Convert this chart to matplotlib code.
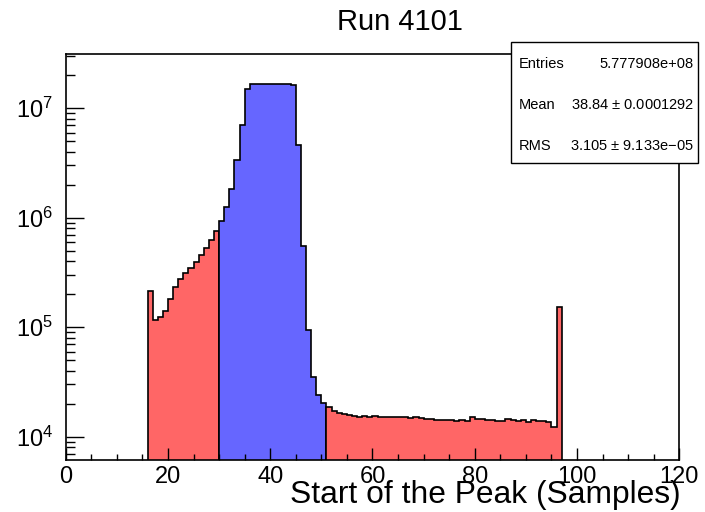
import numpy as np
import matplotlib
matplotlib.use("Agg")
import matplotlib.pyplot as plt
from matplotlib.ticker import LogLocator, NullFormatter, MultipleLocator
from matplotlib.patches import Rectangle

plt.rcParams["font.family"] = ["Liberation Sans", "DejaVu Sans"]
plt.rcParams["mathtext.fontset"] = "custom"
plt.rcParams["mathtext.rm"] = "Liberation Sans"
plt.rcParams["mathtext.it"] = "Liberation Sans:italic"

# histogram contents, one bin per sample, bins 16..96
first_bin = 16
counts = [
    2.15e5, 1.17e5, 1.25e5, 1.41e5, 1.81e5, 2.32e5, 2.78e5, 3.11e5,
    3.50e5, 3.97e5, 4.55e5, 5.34e5, 6.27e5, 7.57e5,                 # 16-29
    9.4e5, 1.25e6, 1.83e6, 3.37e6, 7.03e6, 1.50e7,                 # 30-35
    1.6777e7, 1.6777e7, 1.6777e7, 1.6777e7, 1.6777e7, 1.6777e7,
    1.6777e7, 1.6777e7,                                             # 36-43
    1.64e7, 4.6e6, 5.56e5, 9.45e4, 3.54e4, 2.41e4, 2.05e4,          # 44-50
    1.87e4, 1.73e4, 1.66e4, 1.60e4, 1.58e4, 1.54e4, 1.52e4, 1.54e4,
    1.52e4, 1.54e4, 1.50e4, 1.50e4, 1.51e4, 1.52e4, 1.50e4, 1.52e4,
    1.49e4, 1.51e4, 1.48e4,                                         # 51-69
    1.445e4, 1.445e4, 1.42e4, 1.41e4, 1.41e4, 1.41e4, 1.39e4, 1.42e4,
    1.40e4, 1.51e4, 1.445e4, 1.44e4, 1.42e4, 1.41e4, 1.39e4, 1.40e4,
    1.445e4, 1.42e4, 1.39e4, 1.41e4, 1.355e4, 1.41e4, 1.40e4, 1.39e4,
    1.355e4, 1.22e4, 1.52e5,                                        # 70-96
]
# signal window drawn in blue, the rest in red
window = (30, 51)

stats_names = ["Entries", "Mean", "RMS"]
stats_values = ["5.777908e+08", "38.84 $\\pm$ 0.0001292", "3.105 $\\pm$ 9.133e$-$05"]

RED = "#ff6666"
BLUE = "#6666ff"

counts = np.array(counts)
edges = np.arange(first_bin, first_bin + len(counts) + 1)

fig = plt.figure(figsize=(7.05, 5.12), dpi=100)
ax = fig.add_axes([65.7 / 705, 1 - 460.3 / 512, (679.3 - 65.7) / 705, (460.3 - 54) / 512])

i0 = window[0] - first_bin
i1 = window[1] - first_bin
segments = [(0, i0, RED), (i0, i1, BLUE), (i1, len(counts), RED)]
for a, b, col in segments:
    ax.stairs(counts[a:b], edges[a:b + 1], baseline=1, fill=True,
              facecolor=col, edgecolor="black", linewidth=1.2)

ax.set_yscale("log")
ax.set_xlim(0, 120)
ax.set_ylim(6087, 3.13e7)

ax.xaxis.set_major_locator(MultipleLocator(20))
ax.xaxis.set_minor_locator(MultipleLocator(5))
ax.yaxis.set_major_locator(LogLocator(base=10, numticks=10))
ax.yaxis.set_minor_locator(LogLocator(base=10, subs=np.arange(2, 10), numticks=20))
ax.yaxis.set_minor_formatter(NullFormatter())

ax.tick_params(axis="x", which="major", direction="in", length=8.6, width=1.0,
               labelsize=17, pad=4)
ax.tick_params(axis="x", which="minor", direction="in", length=4, width=1.0)
ax.tick_params(axis="y", which="major", direction="in", length=13, width=1.0,
               labelsize=17, pad=9)
ax.tick_params(axis="y", which="minor", direction="in", length=6.5, width=1.0)
ax.tick_params(top=False, right=False, which="both")
for s in ax.spines.values():
    s.set_linewidth(1.2)

fig.text(400 / 705, 1 - 22 / 512, "Run 4101", ha="center", va="center", fontsize=21)
fig.text(681 / 705, 1 - 503 / 512, "Start of the Peak (Samples)", ha="right",
         va="baseline", fontsize=22.9)

# stats box
bx0, by0, bx1, by1 = 511, 42, 698, 163
box = Rectangle((bx0 / 705, 1 - by1 / 512), (bx1 - bx0) / 705, (by1 - by0) / 512,
                transform=fig.transFigure, facecolor="white", edgecolor="black",
                linewidth=1.0, zorder=5)
fig.patches.append(box)
rows_y = [64, 105, 146]
for name, val, ry in zip(stats_names, stats_values, rows_y):
    fig.text(519 / 705, 1 - ry / 512, name, ha="left", va="center", fontsize=10.5, zorder=6)
    fig.text(694 / 705, 1 - ry / 512, val, ha="right", va="center", fontsize=10.5, zorder=6)

fig.savefig("out.png", dpi=100)
